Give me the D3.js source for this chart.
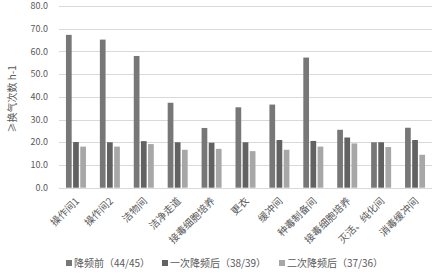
<!DOCTYPE html>
<html>
<head>
<meta charset="utf-8">
<script src="https://cdn.jsdelivr.net/npm/d3@7"></script>
<style>
  body { margin: 0; background: #fff; }
  text { font-family: "Noto Sans CJK SC", "Noto Sans", sans-serif; fill: #595959; }
</style>
</head>
<body>
<svg width="436" height="279"></svg>
<script>
const width = 436;
const height = 279;

const categories = ["操作间1", "操作间2", "洁物间", "洁净走道", "接毒细胞培养", "更衣", "缓冲间", "种毒制备间", "接毒细胞培养 ", "灭活、纯化间", "消毒缓冲间"];
const seriesNames = ["降频前（44/45）", "一次降频后（38/39）", "二次降频后（37/36）"];
const before = [67.3, 65.2, 58.0, 37.4, 26.3, 35.4, 36.6, 57.3, 25.5, 20.0, 26.4];
const first = [20.1, 20.0, 20.5, 20.0, 19.8, 20.0, 21.0, 20.6, 22.1, 20.0, 21.0];
const second = [18.1, 18.1, 19.2, 16.7, 17.1, 16.1, 16.7, 18.1, 19.5, 17.9, 14.5];
const yTicks = [0, 10, 20, 30, 40, 50, 60, 70, 80];

const colors = ["#777777", "#626262", "#a7a7a7"];
const series = [before, first, second];

const margin = { top: 6, right: 4, bottom: 92, left: 59 };

const svg = d3.select("svg");

const x = d3.scaleBand()
  .domain(categories)
  .range([margin.left, width - margin.right]);

const xs = d3.scaleBand()
  .domain(d3.range(series.length))
  .range([0, 20])
  .paddingInner(0.2);

const y = d3.scaleLinear()
  .domain([0, 80])
  .range([height - margin.bottom + 0.7, margin.top]);

// gridlines
svg.append("g")
  .selectAll("line")
  .data(yTicks)
  .join("line")
  .attr("x1", margin.left)
  .attr("x2", width - margin.right)
  .attr("y1", d => Math.round(y(d)) + 0.5)
  .attr("y2", d => Math.round(y(d)) + 0.5)
  .attr("stroke", "#d9d9d9")
  .attr("stroke-width", 1);

// y labels
svg.append("g")
  .selectAll("text")
  .data(yTicks)
  .join("text")
  .attr("x", margin.left - 11)
  .attr("y", d => y(d))
  .attr("dy", "0.35em")
  .attr("text-anchor", "end")
  .attr("font-size", 9)
  .text(d => d.toFixed(1));

// bars
const groups = svg.append("g")
  .selectAll("g")
  .data(series)
  .join("g")
  .attr("fill", (d, i) => colors[i]);

groups.each(function (vals, si) {
  d3.select(this)
    .selectAll("rect")
    .data(vals)
    .join("rect")
    .attr("x", (d, i) => x(categories[i]) + x.bandwidth() / 2 - 10 + xs(si))
    .attr("width", xs.bandwidth())
    .attr("y", d => y(d))
    .attr("height", d => y(0) - y(d));
});

// x axis line
svg.append("line")
  .attr("x1", margin.left)
  .attr("x2", width - margin.right)
  .attr("y1", Math.round(y(0)) + 0.5)
  .attr("y2", Math.round(y(0)) + 0.5)
  .attr("stroke", "#d9d9d9");

// category labels
svg.append("g")
  .selectAll("text")
  .data(categories)
  .join("text")
  .attr("font-size", 10)
  .attr("text-anchor", "end")
  .attr("transform", d => `translate(${x(d) + x.bandwidth() / 2 + 4},${y(0) + 14}) rotate(-45)`)
  .text(d => d.trim());

// y title
svg.append("text")
  .attr("transform", `translate(16,${(y(0) + y(80)) / 2 + 2}) rotate(-90)`)
  .attr("text-anchor", "middle")
  .attr("font-size", 10)
  .text("≥换气次数 h-1");

// legend
const legendX = [66, 162, 279];
const legend = svg.append("g")
  .selectAll("g")
  .data(seriesNames)
  .join("g")
  .attr("transform", (d, i) => `translate(${legendX[i]},263)`);

legend.append("rect")
  .attr("x", 0)
  .attr("y", -3)
  .attr("width", 6)
  .attr("height", 6)
  .attr("fill", (d, i) => colors[i]);

legend.append("text")
  .attr("x", 8)
  .attr("dy", "0.35em")
  .attr("font-size", 10)
  .text(d => d);
</script>
</body>
</html>
